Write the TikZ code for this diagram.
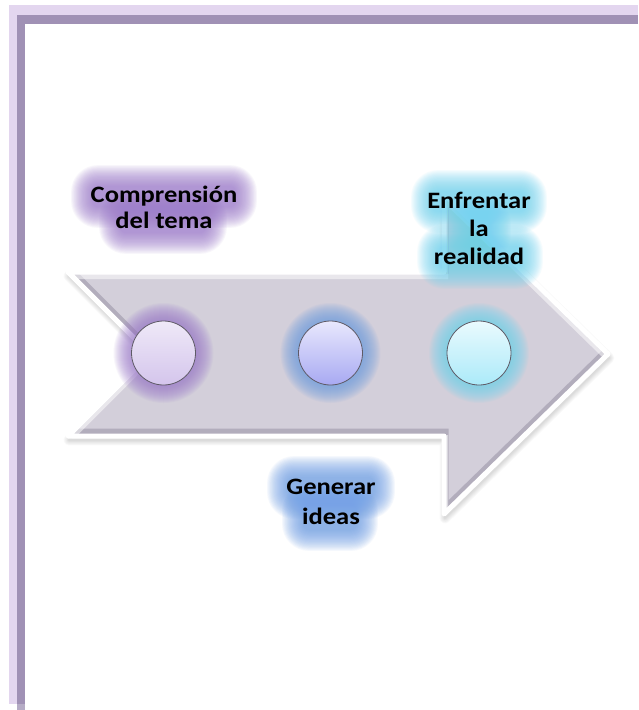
\documentclass[tikz,border=0pt]{standalone}
\usepackage{fontspec}
\setmainfont{Carlito}
\usepackage{graphicx}
\definecolor{bandlight}{HTML}{E3D6EF}
\definecolor{banddark}{HTML}{A091B5}
\definecolor{bandend}{HTML}{B5ABC5}
\definecolor{arrowbody}{HTML}{D3CFDA}
\definecolor{bevdark}{HTML}{8A8498}
\definecolor{dotline}{HTML}{5E5A66}
\definecolor{glowpurple}{HTML}{9C7ACB}
\definecolor{glowblue}{HTML}{6E9EE6}
\definecolor{glowcyan}{HTML}{6FD3F0}
\definecolor{dpa}{HTML}{EFE9F8}
\definecolor{dpb}{HTML}{D4C5EC}
\definecolor{dba}{HTML}{E8E8FD}
\definecolor{dbb}{HTML}{A8A9F2}
\definecolor{dca}{HTML}{EAFAFE}
\definecolor{dcb}{HTML}{ABEAF9}
\tikzset{
  dot/.style={circle, draw=dotline, line width=0.8pt, minimum size=64pt, inner sep=0pt},
  labeltext/.style={text=black, inner sep=0pt, anchor=base},
}
\newcommand\glowbox[5]{%
  \foreach \k in {0,...,19}{%
    \pgfmathsetmacro\gx{#2-1.1*\k}\pgfmathsetmacro\gy{#3-1.1*\k}%
    \pgfmathsetmacro\hx{#4+1.1*\k}\pgfmathsetmacro\hy{#5+1.1*\k}%
    \pgfmathsetmacro\rc{6+1.1*\k}%
    \fill[#1, opacity=0.065, rounded corners=\rc pt] (\gx,\gy) rectangle (\hx,\hy);}}
\newcommand\glowdisc[3]{%
  \foreach \k in {0,...,19}{%
    \fill[#1, opacity=0.065] (#2,#3) circle ({31+1.0*\k});}}
\newcommand\vtxt[2]{\bfseries\fontsize{23.5}{#1}\selectfont\scalebox{1.13}[1]{\begin{tabular}[t]{@{}c@{}}#2\end{tabular}}}
\def\arrowpts{(68,272) -- (444,272) -- (444,194) -- (608,354) -- (444,514) -- (444,436) -- (68,436) -- (150,354) -- cycle}
\begin{document}
\begin{tikzpicture}[x=1pt,y=-1pt]
\useasboundingbox (0,0) rectangle (638,710);
\fill[white] (0,0) rectangle (638,710);
% page border
\fill[bandlight] (9,5) rectangle (638,15);
\fill[bandlight] (9,5) rectangle (17,704);
\fill[banddark] (17,15) rectangle (638,24);
\fill[banddark] (17,15) rectangle (25,704);
\fill[bandend] (17,704) rectangle (25,710);
% arrow shadow
\foreach \k in {1,...,6}{
  \draw[black, opacity=0.025, line width={1.8*\k}, shift={(1,4)}, line join=round] \arrowpts;
}
% arrow body
\fill[arrowbody] \arrowpts;
\begin{scope}
  \clip \arrowpts;
  \draw[bevdark, opacity=0.45, line width=9pt, shift={(0,-3)}] \arrowpts;
  \draw[white, opacity=0.5, line width=8pt, shift={(0,3)}] \arrowpts;
\end{scope}
\draw[white, line width=5pt, line join=round] \arrowpts;
% text glows
\glowbox{glowpurple}{92}{186}{236}{207}
\glowbox{glowpurple}{120}{212}{206}{233}
\glowbox{glowcyan}{432}{191}{526}{212}
\glowbox{glowcyan}{468}{218}{490}{240}
\glowbox{glowcyan}{438}{246}{522}{268}
\glowbox{glowblue}{288}{477}{374}{498}
\glowbox{glowblue}{303}{505}{357}{530}
% circle glows
\glowdisc{glowpurple}{163.5}{353}
\glowdisc{glowblue}{330.5}{353}
\glowdisc{glowcyan}{479}{353}
% circles
\node[dot, top color=dpa, bottom color=dpb] (c1) at (163.5,353) {};
\node[dot, top color=dba, bottom color=dbb] (c2) at (330.5,353) {};
\node[dot, top color=dca, bottom color=dcb] (c3) at (479,353) {};
% labels
\node[labeltext] (t1) at (164,202.7) {\vtxt{26}{Comprensión\\del tema}};
\node[labeltext] (t3) at (479,208.3) {\vtxt{28}{Enfrentar\\la\\realidad}};
\node[labeltext] (t2) at (331,494) {\vtxt{30}{Generar\\ideas}};
\end{tikzpicture}
\end{document}
